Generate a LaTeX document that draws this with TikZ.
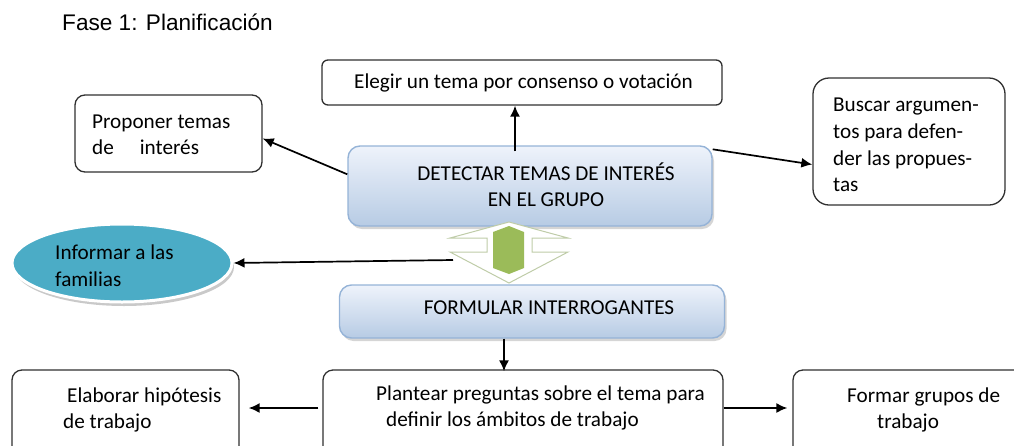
\documentclass[tikz,border=0pt]{standalone}
\usepackage{fontspec}
\setmainfont{Carlito}
\newfontfamily\arialfont{Liberation Sans}
\usetikzlibrary{arrows.meta,shadows,shapes.geometric}
\definecolor{boxline}{HTML}{303030}
\definecolor{teal}{HTML}{4BACC6}
\definecolor{bluetop}{HTML}{EEF3FB}
\definecolor{bluebot}{HTML}{B7CBE4}
\definecolor{blueline}{HTML}{95B3D7}
\definecolor{greenfill}{HTML}{9BBB59}
\definecolor{greenedge}{HTML}{BFCCA8}
\begin{document}
\begin{tikzpicture}[x=1pt,y=-1pt,
  txt/.style={inner sep=0pt,font=\fontsize{21.2}{26.5}\selectfont},
  wbox/.style={draw=boxline,line width=1.3pt,fill=white,rounded corners=#1,inner sep=0pt},
  bbox/.style={draw=blueline,line width=1.4pt,rounded corners=12pt,top color=bluetop,bottom color=bluebot,inner sep=0pt,
     drop shadow={shadow xshift=2pt,shadow yshift=-3pt,fill=gray!55,opacity=0.6}},
  arr/.style={-{Latex[length=11pt,width=10pt]},line width=1.7pt,black}
]
\useasboundingbox (0,0) rectangle (1014,445);
\clip (0,0) rectangle (1014,445);

% title
\node[inner sep=0pt,anchor=west,font=\arialfont\fontsize{22.6}{26}\selectfont] (title) at (62,22) {Fase 1: Planificación};

% boxes
\node[wbox=6pt,minimum width=400pt,minimum height=45pt] (elegir) at (522,82.5) {};
\node[wbox=10pt,minimum width=187pt,minimum height=77pt] (proponer) at (168.5,133.5) {};
\node[wbox=16pt,minimum width=192pt,minimum height=127pt] (buscar) at (909,141.5) {};
\node[bbox,minimum width=364pt,minimum height=80pt] (detectar) at (530,186) {};
\node[bbox,minimum width=385pt,minimum height=53pt] (formular) at (532,311.5) {};
\node[wbox=10pt,minimum width=400pt,minimum height=100pt] (plantear) at (523,420) {};
\node[wbox=10pt,minimum width=227pt,minimum height=100pt] (elaborar) at (125.5,420) {};
\node[wbox=10pt,minimum width=240pt,minimum height=100pt] (formar) at (913,420) {};

% ellipse
\node[ellipse,fill=teal,draw=white,line width=3pt,minimum width=220pt,minimum height=78pt,
  drop shadow={shadow xshift=2pt,shadow yshift=-4pt,fill=gray!60,opacity=0.7}] (informar) at (122,263) {};

% green double arrow
\filldraw[fill=white,draw=greenedge,line width=1pt] (509,222) -- (568,238) -- (532,238) -- (532,252) -- (568,252) -- (509,283) -- (450,252) -- (487,252) -- (487,238) -- (450,238) -- cycle;
\fill[greenfill] (493,232) -- (509,226) -- (524,232) -- (524,268) -- (509,274) -- (493,268) -- cycle;
\coordinate (hub) at (453,260);

% texts
\node[txt] (telegir) at (523.5,83) {Elegir un tema por consenso o votación};
\node[txt,anchor=west,align=left] (tproponer) at (92,135) {Proponer temas\\de\hspace{26pt}interés};
\node[txt,anchor=west,align=left,font=\fontsize{21.2}{26.7}\selectfont] (tbuscar) at (833,145) {Buscar argumen-\\tos para defen-\\der las propues-\\tas};
\node[txt,align=center] (tdetectar) at (546,184.5) {DETECTAR TEMAS DE INTERÉS\\EN EL GRUPO};
\node[txt] (tformular) at (549,308) {FORMULAR INTERROGANTES};
\node[txt,anchor=west,align=left] (tinformar) at (55,265.5) {Informar a las\\familias};
\node[txt,anchor=west,align=left] (tplantear) at (376,408) {Plantear preguntas sobre el tema para\\\hspace*{10pt}definir los ámbitos de trabajo};
\node[txt,anchor=west,align=left] (telaborar) at (63,410) {\hspace*{4pt}Elaborar hipótesis\\de trabajo};
\node[txt,anchor=west,align=left] (tformar) at (847,410) {Formar grupos de\\\hspace*{30pt}trabajo};

% connectors
\draw[arr] ([yshift=-6pt]detectar.north -| 515,0) -- (elegir.south -| 515,0);
\draw[arr] ([yshift=-29pt]detectar.north west) -- ([yshift=-5pt]proponer.east);
\draw[arr] ([yshift=-4pt]detectar.north east) -- ([yshift=-23pt]buscar.west);
\draw[arr] (hub) -- (informar.east);
\draw[arr] (formular.south -| 504,0) -- ([yshift=-2pt]plantear.north -| 504,0);
\draw[arr,shorten <=4pt] (plantear.west |- 0,408) -- ([xshift=9pt]elaborar.east |- 0,408);
\draw[arr] (plantear.east |- 0,408) -- ([xshift=-5pt]formar.west |- 0,408);
\end{tikzpicture}
\end{document}
